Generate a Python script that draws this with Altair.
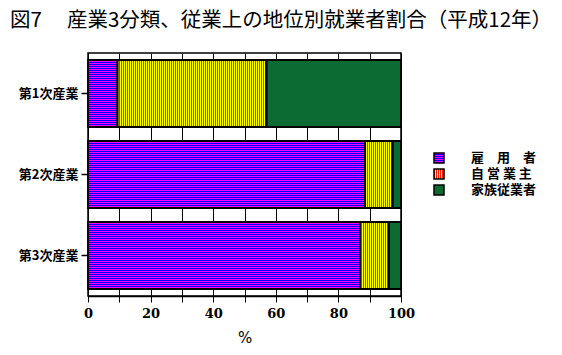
import altair as alt
import pandas as pd
import math

categories = ["第1次産業", "第2次産業", "第3次産業"]
series = ["雇　用　者", "自 営 業 主", "家族従業者"]
employees = [9.4, 88.5, 86.9]
self_employed = [47.6, 8.8, 9.2]
family = [43.0, 2.7, 3.9]
x_ticks = list(range(0, 101, 10))

title_text = "図7　 産業3分類、従業上の地位別就業者割合（平成12年）"

PLOT_W, PLOT_H = 313, 243
PX_PER_UNIT = PLOT_W / 100.0
STEP, GAP, OUTER = 81, 14, 7          # band layout in px
BAR_H = STEP - GAP

rows = []
for i, c in enumerate(categories):
    start = 0.0
    for s, vals in zip(series, [employees, self_employed, family]):
        v = vals[i]
        rows.append({"category": c, "series": s, "value": v,
                     "start": start, "end": start + v})
        start += v
df = pd.DataFrame(rows)
leg_df = pd.DataFrame({"series": series})


def pixel_stripes(line_col, bg_col, n, horizontal_lines):
    stops = []
    for k in range(n):
        col = line_col if k % 2 == 0 else bg_col
        stops.append(alt.GradientStop(color=col, offset=k / n))
        stops.append(alt.GradientStop(color=col, offset=(k + 1) / n))
    if horizontal_lines:
        return alt.LinearGradient(gradient="linear", stops=stops,
                                  x1=0, x2=0, y1=0, y2=1)
    return alt.LinearGradient(gradient="linear", stops=stops,
                              x1=0, x2=1, y1=0, y2=0)


BLUE, MAGENTA = "#0000FF", "#FF00FF"
YELLOW, RED = "#FFFF00", "#FF2000"
GREEN = "#0B6B32"

y_enc = alt.Y("category:N", sort=categories,
              scale=alt.Scale(paddingInner=GAP / STEP, paddingOuter=OUTER / STEP),
              axis=alt.Axis(title=None, domain=False, grid=False, tickSize=7,
                            tickColor="black", tickWidth=1.5,
                            labelFont="Noto Sans CJK JP", labelFontSize=13,
                            labelFontWeight="bold", labelColor="black",
                            labelPadding=3))
x_enc = alt.X("start:Q", scale=alt.Scale(domain=[0, 100], nice=False),
              axis=alt.Axis(values=x_ticks, title="%",
                            labelExpr="datum.value % 20 == 0 ? datum.label : ''",
                            labelFlush=False, tickSize=6, tickColor="black",
                            tickWidth=1, labelFont="DejaVu Serif",
                            labelFontWeight="bold", labelFontSize=13,
                            labelColor="black", labelPadding=5,
                            domainColor="black", domainWidth=1.5,
                            grid=True, gridColor="black", gridOpacity=1,
                            gridWidth=1, titleFont="DejaVu Sans",
                            titleFontWeight="normal", titleFontSize=15,
                            titleColor="black", titlePadding=10))

base = alt.Chart(df).encode(y=y_enc, x=x_enc, x2="end:Q")

s0 = alt.datum.series == series[0]
s1 = alt.datum.series == series[1]
s2 = alt.datum.series == series[2]

layers = [
    # 雇用者: blue fill
    base.transform_filter(s0).mark_bar(fill=BLUE, strokeWidth=0),
]
# 雇用者: 1-px magenta horizontal lines (pattern offsets from band centre)
half = (BAR_H - 1) // 4
for k in range(-half, half + 1):
    layers.append(
        base.transform_filter(s0)
        .mark_rule(color=MAGENTA, strokeWidth=1, strokeCap="butt", yOffset=2 * k))
# 自営業主: yellow fill
layers.append(base.transform_filter(s1).mark_bar(fill=YELLOW, strokeWidth=0))
# 自営業主: 1-px red vertical lines, as a dashed wide rule per bar
for i, c in enumerate(categories):
    p0 = employees[i] * PX_PER_UNIT
    layers.append(
        base.transform_filter(s1 & (alt.datum.category == c))
        .mark_rule(color=RED, strokeWidth=BAR_H, strokeDash=[1, 1],
                   strokeDashOffset=p0 - math.floor(p0), strokeCap="butt"))
layers += [
    # 家族従業者
    base.transform_filter(s2).mark_bar(fill=GREEN, strokeWidth=0),
    # black outlines of every segment
    base.mark_bar(fill="white", fillOpacity=0, stroke="black", strokeWidth=1.8),
]
bars = alt.layer(*layers)

LEG_X = 351
leg_base = alt.Chart(leg_df).encode(
    y=alt.Y("series:N", sort=series,
            scale=alt.Scale(type="point", range=[105, 137], padding=0),
            axis=None)
)
leg_fills = [pixel_stripes(MAGENTA, BLUE, 10, True),
             pixel_stripes(RED, YELLOW, 10, False), GREEN]
leg_layers = []
for s, f in zip(series, leg_fills):
    leg_layers.append(
        leg_base.transform_filter(alt.datum.series == s)
        .mark_square(size=100, fill=f, filled=True, opacity=1,
                     stroke="black", strokeWidth=1.5)
        .encode(x=alt.value(LEG_X)))
leg_layers.append(
    leg_base.mark_text(align="left", baseline="middle", font="Noto Sans CJK JP",
                       fontSize=13, fontWeight="bold", color="black")
    .encode(x=alt.value(383), text="series:N"))
legend = alt.layer(*leg_layers)

chart = alt.layer(bars, legend).resolve_scale(y="independent").properties(
    width=PLOT_W, height=PLOT_H,
    autosize=alt.AutoSizeParams(type="none"),
    padding={"left": 88, "top": 53, "right": 161, "bottom": 59},
    title=alt.Title(title_text, anchor="start", frame="group", dx=-78,
                    offset=22, font="Noto Sans CJK JP", fontSize=20.5,
                    fontWeight="normal", color="black"),
    background="white",
).configure_view(stroke="black", strokeWidth=1.5)

chart.save("out.html", embed_options={"renderer": "svg", "actions": False})
